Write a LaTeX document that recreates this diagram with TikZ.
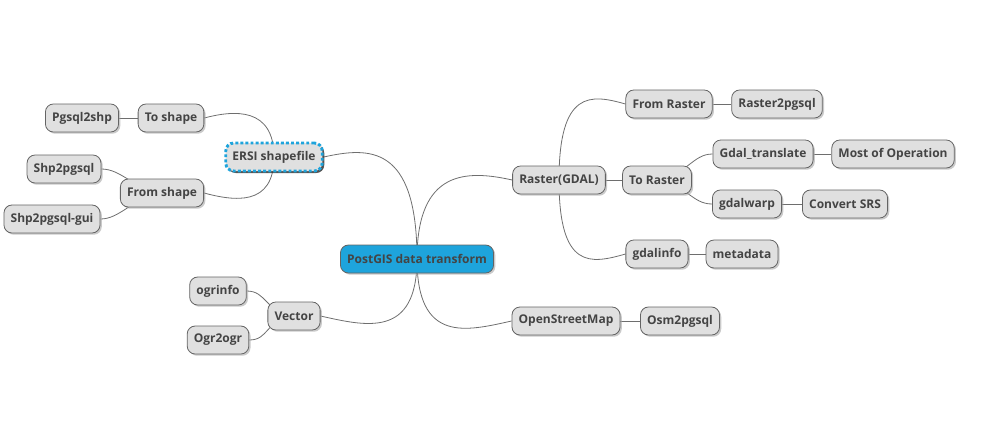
\documentclass[tikz,border=0pt]{standalone}
\usepackage{fontspec}
\setmainfont{Open Sans}
\usepackage{xcolor}
\usepackage{tikz}
\usetikzlibrary{shadows,backgrounds}
\definecolor{boxfill}{RGB}{224,224,224}
\definecolor{boxline}{RGB}{100,100,100}
\definecolor{txtgray}{RGB}{68,68,68}
\definecolor{rootblue}{RGB}{30,164,220}
\definecolor{linkgray}{RGB}{110,110,110}

\begin{document}
\begin{tikzpicture}[x=0.75pt, y=-0.75pt,
	every node/.style={rectangle, rounded corners=6pt, draw=boxline, line width=0.6pt, fill=boxfill,
		minimum height=21pt, inner xsep=5pt, inner ysep=0pt, text=txtgray,
		font=\fontsize{9pt}{11pt}\selectfont\bfseries,
		drop shadow={shadow xshift=1.3pt, shadow yshift=-1.3pt, fill=black!35, opacity=0.6}},
	rootbox/.style={fill=rootblue},
	dottedbox/.style={draw=rootblue, line width=2.2pt, dash pattern=on 2.2pt off 1.6pt,
		drop shadow={shadow xshift=1.5pt, shadow yshift=-1.5pt, fill=black!80, opacity=0.8}},
	link/.style={draw=linkgray, line width=0.6pt}]
	\useasboundingbox (0,0) rectangle (991,421);
	% Nodes
	\node[rootbox] (root) at (417,259) {PostGIS data transform};
	\node[dottedbox] (ersi) at (274,157) {ERSI shapefile};
	\node (toshape) at (171,118) {To shape};
	\node (pgsql2shp) at (82,118) {Pgsql2shp};
	\node (fromshape) at (162,193) {From shape};
	\node (shp2pgsql) at (64,169) {Shp2pgsql};
	\node (shp2pgsqlgui) at (52,219) {Shp2pgsql-gui};
	\node (vector) at (294,316) {Vector};
	\node (ogrinfo) at (218,291) {ogrinfo};
	\node (ogr2ogr) at (218,340) {Ogr2ogr};
	\node (raster) at (559,180) {Raster(GDAL)};
	\node (fromraster) at (669,104) {From Raster};
	\node (raster2pgsql) at (777,104) {Raster2pgsql};
	\node (toraster) at (657,180) {To Raster};
	\node (gdaltranslate) at (763,154) {Gdal\_translate};
	\node (mostop) at (893,154) {Most of Operation};
	\node (gdalwarp) at (747,204) {gdalwarp};
	\node (convsrs) at (845,204) {Convert SRS};
	\node (gdalinfo) at (657,254) {gdalinfo};
	\node (metadata) at (742,254) {metadata};
	\node (osm) at (566,321) {OpenStreetMap};
	\node (osm2pgsql) at (680,321) {Osm2pgsql};
	% Edges
	\begin{scope}[on background layer]
		\draw[link] (root.center) .. controls +(0,-115) and +(45,-10) .. (ersi.east);
		\draw[link] (root.center) .. controls +(0,-90) and +(-45,-10) .. (raster.west);
		\draw[link] (root.center) .. controls +(0,80) and +(45,10) .. (vector.east);
		\draw[link] (root.center) .. controls +(0,85) and +(-45,10) .. (osm.west);
		\draw[link] (ersi.center) .. controls +(0,-50) and +(30,-8) .. (toshape.east);
		\draw[link] (ersi.center) .. controls +(0,50) and +(30,8) .. (fromshape.east);
		\draw[link] (toshape) -- (pgsql2shp);
		\draw[link] (fromshape.center) .. controls +(-30,-5) and +(20,0) .. (shp2pgsql.east);
		\draw[link] (fromshape.center) .. controls +(-30,5) and +(20,0) .. (shp2pgsqlgui.east);
		\draw[link] (vector.center) .. controls +(-30,-5) and +(20,0) .. (ogrinfo.east);
		\draw[link] (vector.center) .. controls +(-30,5) and +(20,0) .. (ogr2ogr.east);
		\draw[link] (raster.center) .. controls +(0,-90) and +(-35,-10) .. (fromraster.west);
		\draw[link] (raster.center) .. controls +(0,90) and +(-35,10) .. (gdalinfo.west);
		\draw[link] (raster) -- (toraster);
		\draw[link] (fromraster) -- (raster2pgsql);
		\draw[link] (toraster.center) .. controls +(30,-5) and +(-20,0) .. (gdaltranslate.west);
		\draw[link] (toraster.center) .. controls +(30,5) and +(-20,0) .. (gdalwarp.west);
		\draw[link] (gdaltranslate) -- (mostop);
		\draw[link] (gdalwarp) -- (convsrs);
		\draw[link] (gdalinfo) -- (metadata);
		\draw[link] (osm) -- (osm2pgsql);
	\end{scope}
\end{tikzpicture}
\end{document}
